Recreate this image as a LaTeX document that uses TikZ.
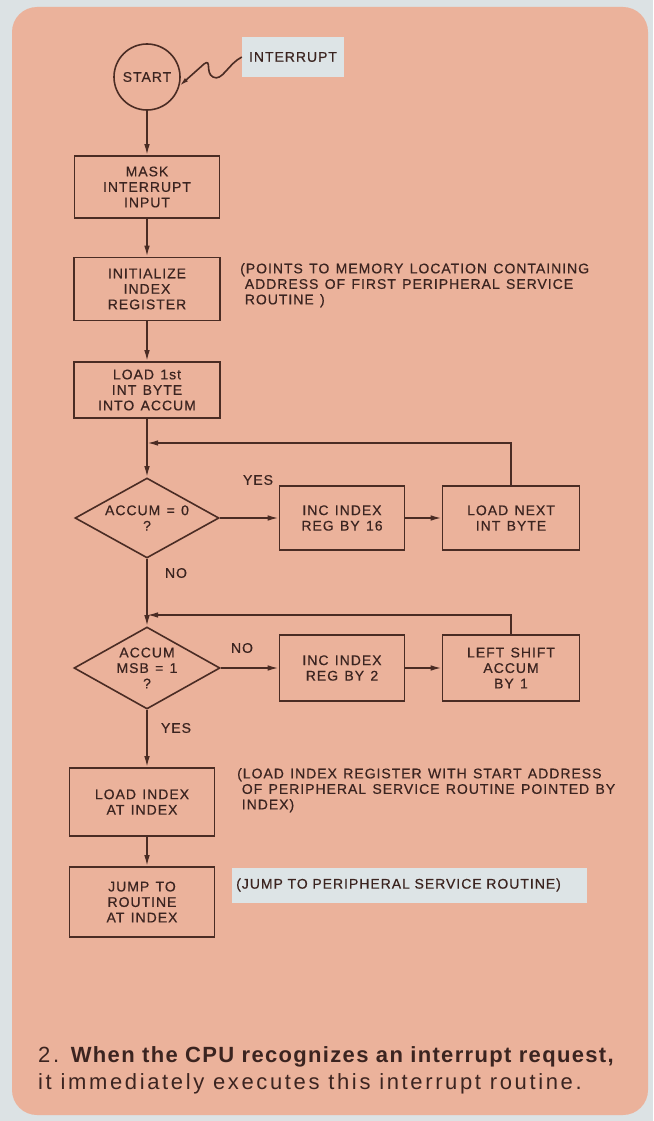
\documentclass[tikz,border=0pt]{standalone}
\usepackage{fontspec}
\setmainfont{Liberation Sans}
\newfontfamily\chartfont[LetterSpace=7, FakeBold=0.5, WordSpace=1.3]{Liberation Sans}
\newfontfamily\capfont[LetterSpace=12]{Liberation Sans}
\newfontfamily\capbold[LetterSpace=6]{Liberation Sans}
\usetikzlibrary{shapes.geometric,arrows.meta}
\definecolor{panel}{HTML}{EBB29B}
\definecolor{outer}{HTML}{DCE2E4}
\definecolor{ink}{HTML}{4A2C24}
\definecolor{txt}{HTML}{3B2420}
\definecolor{tag}{HTML}{DDE4E6}
\tikzset{
  line/.style={draw=ink, line width=1.6pt},
  arr/.style={line, -{Latex[length=11pt,width=5.5pt]}},
  chart/.style={text=txt, font={\chartfont\fontsize{14}{15.5}\selectfont}},
  proc/.style={chart, draw=ink, line width=1.6pt, align=center, inner sep=0pt},
  dec/.style={proc, diamond, aspect=1.8},
  note/.style={chart, align=left, anchor=north west, inner sep=0pt},
  lbl/.style={chart, inner sep=0pt},
}
\begin{document}
\begin{tikzpicture}[x=1pt,y=-1pt]
\useasboundingbox (0,0) rectangle (653,1121);
\fill[outer] (0,0) rectangle (653,1121);
\fill[panel, rounded corners=25pt] (12,7) rectangle (648,1115);

% nodes
\node[proc, circle, minimum size=66pt] (start) at (147,77) {START};
\node[chart, fill=tag, minimum width=102pt, minimum height=40pt, inner sep=0pt] (intr) at (293,57) {INTERRUPT};
\node[proc, minimum width=145pt, minimum height=62pt] (mask) at (147,187) {MASK\\INTERRUPT\\INPUT};
\node[proc, minimum width=146pt, minimum height=63pt] (init) at (147,289) {INITIALIZE\\INDEX\\REGISTER};
\node[proc, minimum width=146pt, minimum height=56pt] (load1) at (147,390) {LOAD 1st\\INT BYTE\\INTO ACCUM};
\coordinate (j1) at (147,443);
\node[dec, minimum width=144pt, minimum height=80pt] (dec1) at (147,518) {ACCUM = 0\\?};
\node[proc, minimum width=125pt, minimum height=64pt] (inc16) at (342,518) {INC INDEX\\REG BY 16};
\node[proc, minimum width=137pt, minimum height=64pt] (lnext) at (511,518) {LOAD NEXT\\INT BYTE};
\coordinate (j2) at (147,615);
\node[dec, minimum width=146pt, minimum height=82pt] (dec2) at (147,668) {ACCUM\\MSB = 1\\?};
\node[proc, minimum width=125pt, minimum height=66pt] (inc2) at (342,668) {INC INDEX\\REG BY 2};
\node[proc, minimum width=137pt, minimum height=66pt] (lshift) at (511,668) {LEFT SHIFT\\ACCUM\\BY 1};
\node[proc, minimum width=145pt, minimum height=68pt] (ldidx) at (142,802) {LOAD INDEX\\AT INDEX};
\node[proc, minimum width=145pt, minimum height=70pt] (jump) at (142,902) {JUMP TO\\ROUTINE\\AT INDEX};

% labels
\node[lbl] (yes1) at (258,480) {YES};
\node[lbl] (no1) at (176,573) {NO};
\node[lbl] (no2) at (242,648) {NO};
\node[lbl] (yes2) at (176,728) {YES};

% notes
\node[note] (n1) at (240,263) {(POINTS TO MEMORY LOCATION CONTAINING\\\hphantom{(}ADDRESS OF FIRST PERIPHERAL SERVICE\\\hphantom{(}ROUTINE )};
\node[note] (n2) at (237,768) {(LOAD INDEX REGISTER WITH START ADDRESS\\\hphantom{(}OF PERIPHERAL SERVICE ROUTINE POINTED BY\\\hphantom{(}INDEX)};
\node[chart, fill=tag, anchor=west, minimum width=355pt, minimum height=35pt, inner xsep=4pt, text width=347pt, align=left] (n3) at (232,885) {(JUMP TO PERIPHERAL SERVICE ROUTINE)};

% caption
\node[anchor=north west, inner sep=0pt, text=txt, align=left, font={\capfont\fontsize{22}{27}\selectfont}] (cap) at (38,1046) {2. {\capbold\bfseries When the CPU recognizes an interrupt request,}\\it immediately executes this interrupt routine.};

% connectors
\draw[line, -{Latex[length=9pt,width=4.5pt]}] (intr.west) .. controls (228,64) and (222,82) .. (213,77) .. controls (205,73) and (212,58) .. (204,64) -- (start.-15);
\draw[arr] (start) -- (mask);
\draw[arr] (mask) -- (init);
\draw[arr] (init) -- (load1);
\draw[arr] (load1) -- (dec1);
\draw[arr] (dec1.east) -- (inc16.west);
\draw[arr] (inc16) -- (lnext);
\draw[arr] (lnext.north) |- (j1);
\draw[arr] (dec1.south) -- (dec2.north);
\draw[arr] (dec2.east) -- (inc2.west);
\draw[arr] (inc2) -- (lshift);
\draw[arr] (lshift.north) |- (j2);
\draw[arr] (dec2.south) -- (dec2.south |- ldidx.north);
\draw[arr] (ldidx.south -| dec2.south) -- (dec2.south |- jump.north);
\end{tikzpicture}
\end{document}
